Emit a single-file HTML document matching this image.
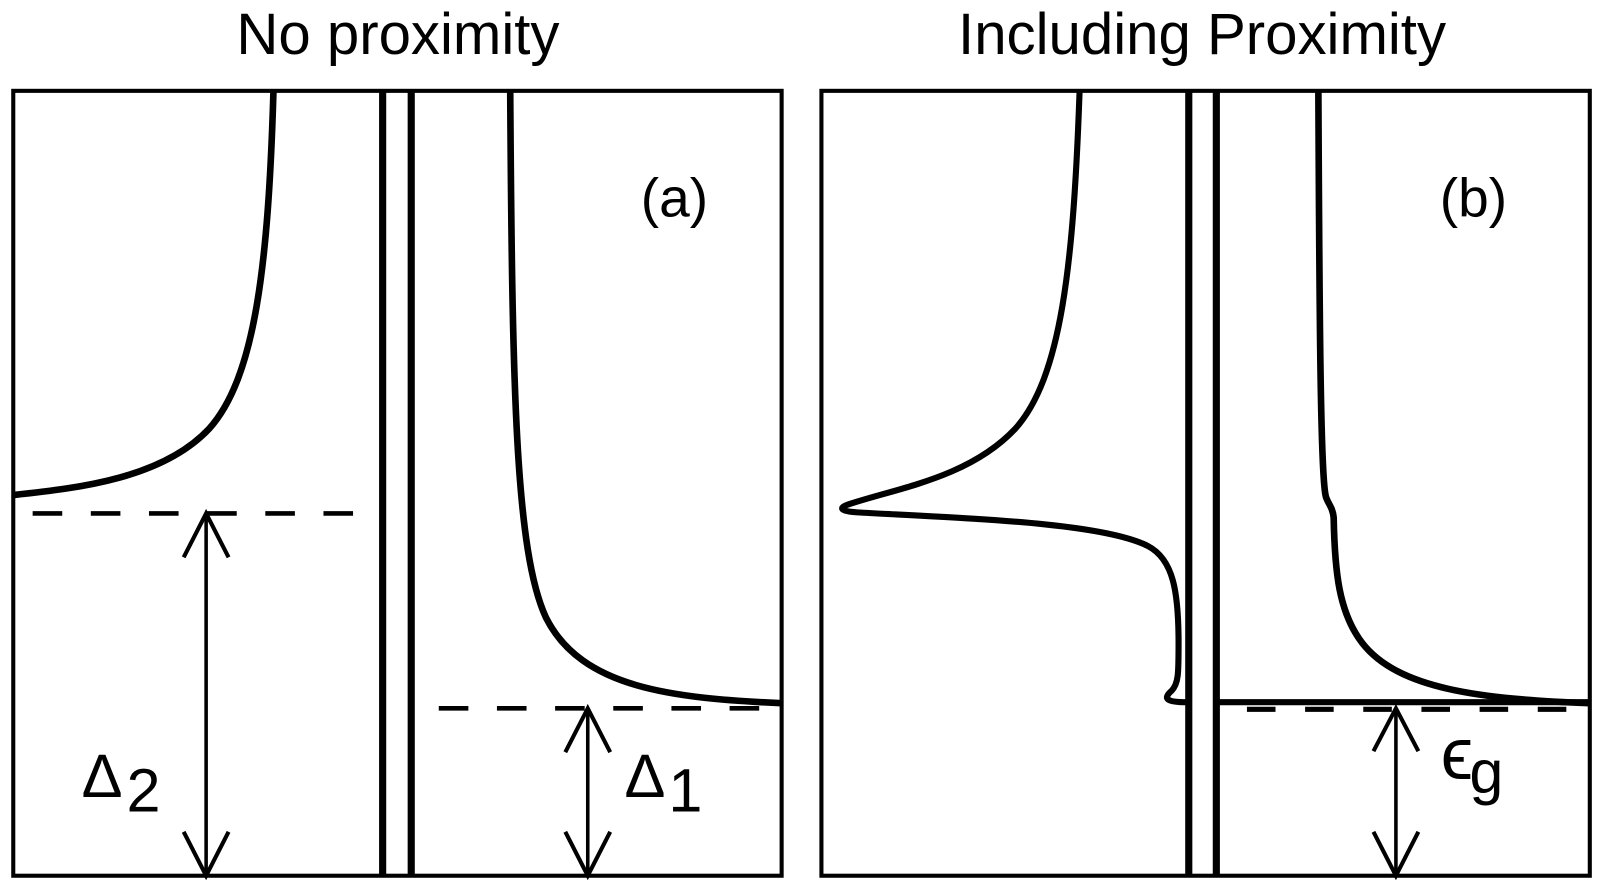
<!DOCTYPE html>
<html><head><meta charset="utf-8"><style>
html,body{margin:0;padding:0;background:#fff;}
svg{display:block;}
text{font-family:"Liberation Sans",Arial,sans-serif;fill:#000;}
</style></head><body>
<svg width="1600" height="889" viewBox="0 0 1568 871" preserveAspectRatio="none" xmlns="http://www.w3.org/2000/svg">
<g fill="none" stroke="#000" stroke-linecap="butt">
<rect x="13" y="89" width="753" height="769" stroke-width="4"/>
<line x1="375" y1="89" x2="375" y2="858" stroke-width="7"/>
<line x1="403" y1="89" x2="403" y2="858" stroke-width="7"/>
<rect x="805" y="89" width="753" height="769" stroke-width="4"/>
<line x1="1165" y1="89" x2="1165" y2="858" stroke-width="7"/>
<line x1="1192" y1="89" x2="1192" y2="858" stroke-width="7"/>

<path d="M268,89 C263,260 250,370 205,420 C160,468 80,478 13,485" stroke-width="6.5"/>
<path d="M500,89 C502,380 505,540 535,605 C570,675 660,684 766,689" stroke-width="6.5"/>
<line x1="32" y1="503" x2="350" y2="503" stroke-width="4.5" stroke-dasharray="29,28"/>
<line x1="430" y1="694" x2="766" y2="694" stroke-width="4.5" stroke-dasharray="29,28"/>
<line x1="202" y1="503" x2="202" y2="858" stroke-width="3.5"/>
<polyline points="180,546 202,503 224,546" stroke-width="4"/>
<polyline points="180,815 202,858 224,815" stroke-width="4"/>
<line x1="576" y1="694" x2="576" y2="858" stroke-width="3.5"/>
<polyline points="554,737 576,694 598,737" stroke-width="4"/>
<polyline points="554,815 576,858 598,815" stroke-width="4"/>

<path d="M1058,89 C1052,260 1040,370 995,420 C950,468 880,478 832,494 C820,498 825,501 840,502 C950,508 1080,512 1125,535 C1150,548 1155,580 1155,630 C1155,660 1155,670 1148,677 C1140,684 1142,688 1163,688" stroke-width="6"/>
<path d="M1292,89 C1293,300 1294,460 1299,485 C1300,492 1306,496 1307,507 C1308,560 1312,600 1335,630 C1370,675 1450,685 1558,689" stroke-width="6.5"/>
<line x1="1192" y1="688" x2="1558" y2="688" stroke-width="6"/>
<line x1="1222" y1="695" x2="1558" y2="695" stroke-width="5" stroke-dasharray="28,29"/>
<line x1="1368" y1="694" x2="1368" y2="858" stroke-width="3.5"/>
<polyline points="1346,736 1368,694 1390,736" stroke-width="4"/>
<polyline points="1346,815 1368,858 1390,815" stroke-width="4"/>
</g>
<text x="390" y="53" font-size="57" text-anchor="middle">No proximity</text>
<text x="1178" y="53" font-size="57" text-anchor="middle">Including Proximity</text>
<text x="628" y="212" font-size="54">(a)</text>
<text x="1411" y="212" font-size="54">(b)</text>
<text x="80" y="781" font-size="60">Δ</text><text x="124" y="795" font-size="60">2</text>
<text x="612" y="781" font-size="60">Δ</text><text x="655" y="795" font-size="60">1</text>
<text x="1412" y="763" font-size="72">ϵ</text><text x="1440" y="777" font-size="60">g</text>
</svg>
</body></html>
